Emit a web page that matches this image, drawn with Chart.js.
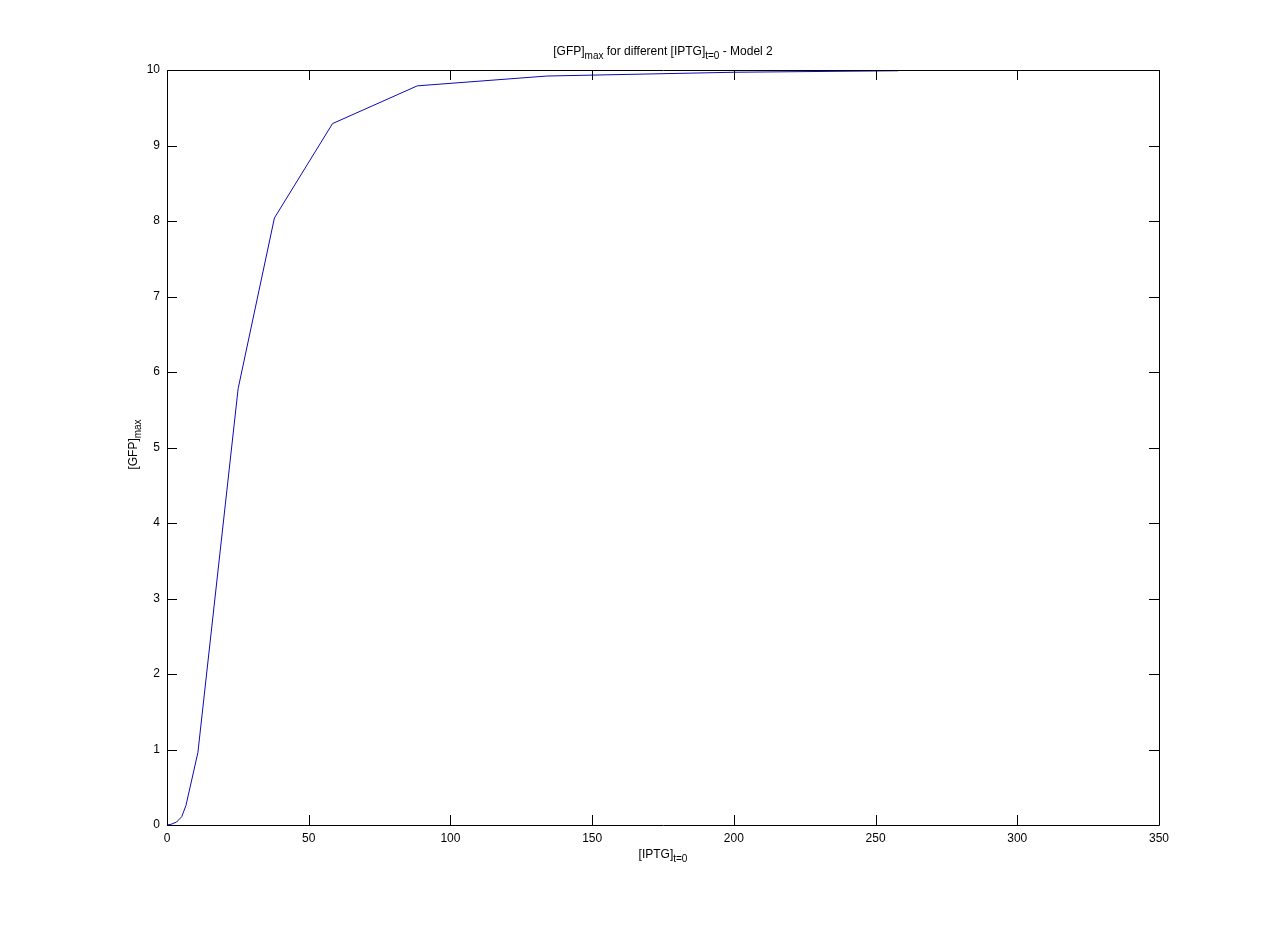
<!DOCTYPE html>
<html>
<head>
<meta charset="utf-8">
<script src="https://cdn.jsdelivr.net/npm/chart.js@4.4.0/dist/chart.umd.min.js"></script>
<style>
html,body{margin:0;padding:0;background:#fff;}
#wrap{width:1281px;height:927px;position:relative;}
</style>
</head>
<body>
<div id="wrap"><canvas id="c" width="1281" height="927"></canvas></div>
<script>
// Data
const iptgValues = [0, 1.5, 3.4, 5.2, 6.7, 10.9, 25.1, 37.9, 58.4, 88.3, 134, 200, 258];
const gfpMaxValues = [0, 0.01, 0.04, 0.11, 0.26, 0.96, 5.78, 8.04, 9.29, 9.79, 9.92, 9.97, 9.99];
const xTickValues = [0, 50, 100, 150, 200, 250, 300, 350];
const yTickValues = [0, 1, 2, 3, 4, 5, 6, 7, 8, 9, 10];

const FONT = '"Liberation Sans", Arial, sans-serif';

const points = iptgValues.map((x, i) => ({x: x, y: gfpMaxValues[i]}));

function drawSubText(ctx, parts, x, y, align) {
  let w = 0;
  parts.forEach(p => { ctx.font = (p.sub ? '10px ' : '12px ') + FONT; p.w = ctx.measureText(p.t).width; w += p.w; });
  let cx = align === 'center' ? x - w / 2 : x;
  parts.forEach(p => {
    ctx.font = (p.sub ? '10px ' : '12px ') + FONT;
    ctx.fillText(p.t, cx, y + (p.sub ? 4 : 0));
    cx += p.w;
  });
}

const boxPlugin = {
  id: 'matlabBox',
  afterDraw(chart) {
    const ctx = chart.ctx;
    const a = chart.chartArea;
    const xs = chart.scales.x, ys = chart.scales.y;
    ctx.save();
    ctx.strokeStyle = '#000';
    ctx.lineWidth = 1;
    ctx.beginPath();
    ctx.rect(Math.round(a.left) + 0.5, Math.round(a.top) + 0.5, Math.round(a.right - a.left), Math.round(a.bottom - a.top));
    ctx.stroke();
    const tl = 10;
    ctx.beginPath();
    xTickValues.forEach(v => {
      const px = Math.round(xs.getPixelForValue(v)) + 0.5;
      ctx.moveTo(px, a.bottom); ctx.lineTo(px, a.bottom - tl);
      ctx.moveTo(px, a.top); ctx.lineTo(px, a.top + tl);
    });
    yTickValues.forEach(v => {
      const py = Math.round(ys.getPixelForValue(v)) + 0.5;
      ctx.moveTo(a.left, py); ctx.lineTo(a.left + tl, py);
      ctx.moveTo(a.right, py); ctx.lineTo(a.right - tl, py);
    });
    ctx.stroke();

    ctx.fillStyle = '#000';
    ctx.textBaseline = 'alphabetic';
    ctx.textAlign = 'left';
    drawSubText(ctx, [{t:'[GFP]'},{t:'max',sub:true},{t:' for different [IPTG]'},{t:'t=0',sub:true},{t:' - Model 2'}], (a.left + a.right) / 2, 55, 'center');
    drawSubText(ctx, [{t:'[IPTG]'},{t:'t=0',sub:true}], (a.left + a.right) / 2, 858, 'center');
    ctx.save();
    ctx.translate(137, (a.top + a.bottom) / 2 - 3);
    ctx.rotate(-Math.PI / 2);
    drawSubText(ctx, [{t:'[GFP]'},{t:'max',sub:true}], 0, 0, 'center');
    ctx.restore();
    ctx.restore();
  }
};

new Chart(document.getElementById('c'), {
  type: 'line',
  data: {
    datasets: [{
      data: points,
      borderColor: '#0a0ab4',
      borderWidth: 1,
      pointRadius: 0,
      fill: false,
      tension: 0
    }]
  },
  options: {
    responsive: false,
    animation: false,
    events: [],
    layout: { padding: { left: 0, right: 122, top: 70, bottom: 0 } },
    plugins: { legend: { display: false }, tooltip: { enabled: false }, title: { display: false } },
    scales: {
      x: {
        type: 'linear', min: 0, max: 350,
        afterFit(s) { s.height = 102; },
        afterBuildTicks(s) { s.ticks = xTickValues.map(v => ({value: v})); },
        grid: { display: false, drawTicks: false },
        border: { display: false },
        ticks: { color: '#000', font: { family: FONT, size: 12 }, padding: 6, maxRotation: 0, autoSkip: false }
      },
      y: {
        type: 'linear', min: 0, max: 10,
        afterFit(s) { s.width = 167; },
        afterBuildTicks(s) { s.ticks = yTickValues.map(v => ({value: v})); },
        grid: { display: false, drawTicks: false },
        border: { display: false },
        ticks: { color: '#000', font: { family: FONT, size: 12 }, padding: 7, autoSkip: false }
      }
    }
  },
  plugins: [boxPlugin]
});
</script>
</body>
</html>
